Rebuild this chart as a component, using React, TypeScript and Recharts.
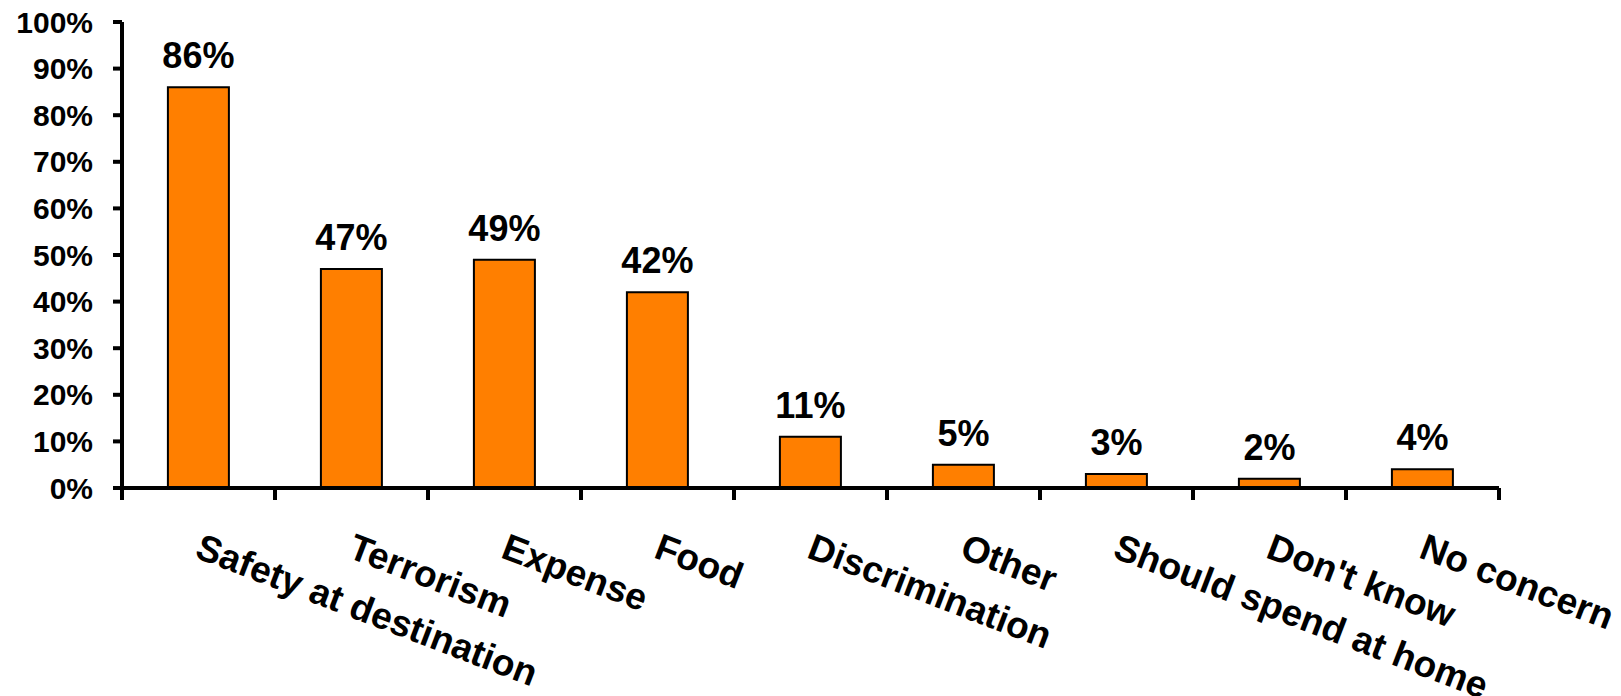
import { BarChart, Bar, XAxis, YAxis, LabelList } from "recharts";

const categories = [
  "Safety at destination",
  "Terrorism",
  "Expense",
  "Food",
  "Discrimination",
  "Other",
  "Should spend at home",
  "Don't know",
  "No concern",
];

const shares = [86, 47, 49, 42, 11, 5, 3, 2, 4];

const yTicks = [0, 10, 20, 30, 40, 50, 60, 70, 80, 90, 100];

const data = categories.map((name, i) => ({ name, value: shares[i] }));

const FONT = "'Liberation Sans', Arial, Helvetica, sans-serif";

// category ticks sit on the band edges, labels hang down to the right
const CategoryTick = (props: any) => {
  const { x, y, payload, index, visibleTicksCount } = props;
  const half = payload.offset || 0;
  const tx = x - 5;
  const ty = y + 69;
  return (
    <g>
      <line x1={x - half} x2={x - half} y1={y} y2={y + 12} stroke="#000" strokeWidth={4} />
      {index === visibleTicksCount - 1 && (
        <line x1={x + half} x2={x + half} y1={y} y2={y + 12} stroke="#000" strokeWidth={4} />
      )}
      <text
        x={tx}
        y={ty}
        transform={`rotate(21, ${tx}, ${ty})`}
        textAnchor="start"
        fontFamily={FONT}
        fontWeight="bold"
        fontSize={37}
        fill="#000"
      >
        {payload.value}
      </text>
    </g>
  );
};

export default function App() {
  return (
    <div style={{ position: "absolute", left: 0, top: 0, background: "#fff" }}>
      <BarChart
        width={1621}
        height={696}
        data={data}
        margin={{ top: 22, right: 122, left: 0, bottom: 0 }}
        barCategoryGap="30%"
      >
        <XAxis
          dataKey="name"
          interval={0}
          height={208}
          tickSize={0}
          tickMargin={0}
          tickLine={false}
          axisLine={{ stroke: "#000", strokeWidth: 4 }}
          tick={<CategoryTick />}
        />
        <YAxis
          width={122}
          domain={[0, 100]}
          ticks={yTicks}
          interval={0}
          tickSize={9}
          tickMargin={20}
          axisLine={{ stroke: "#000", strokeWidth: 4 }}
          tickLine={{ stroke: "#000", strokeWidth: 4 }}
          tickFormatter={(v: number) => `${v}%`}
          tick={{ fill: "#000", fontFamily: FONT, fontWeight: "bold", fontSize: 30 }}
        />
        <Bar
          dataKey="value"
          fill="#ff7f00"
          stroke="#000"
          strokeWidth={2}
          isAnimationActive={false}
        >
          <LabelList
            dataKey="value"
            position="top"
            offset={19}
            formatter={(v: any) => `${v}%`}
            style={{ fill: "#000", fontFamily: FONT, fontWeight: "bold", fontSize: 36 }}
          />
        </Bar>
      </BarChart>
    </div>
  );
}
